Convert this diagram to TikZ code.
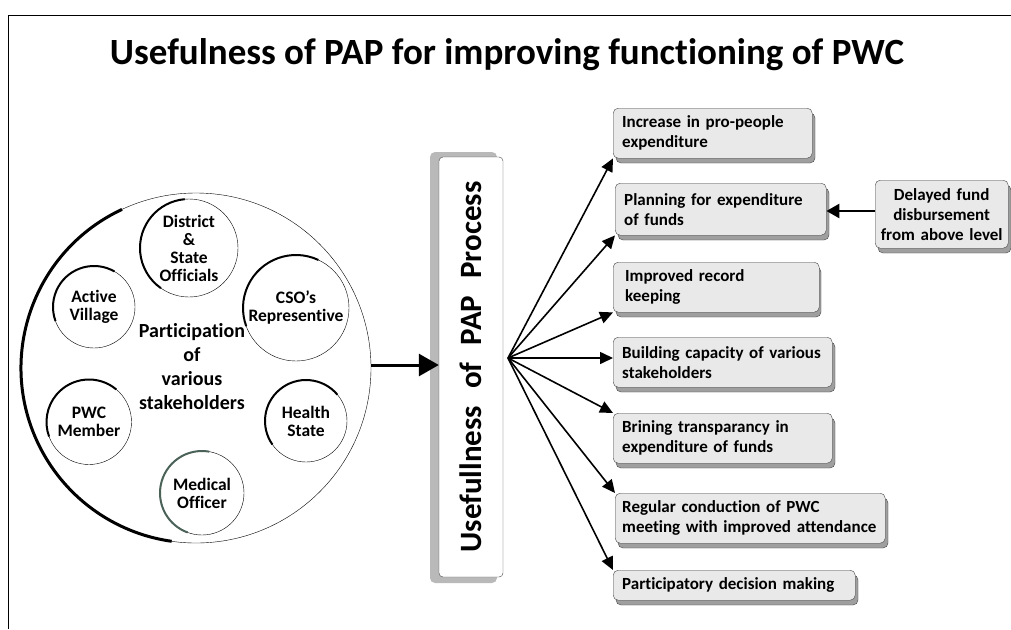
\documentclass[tikz,border=0pt]{standalone}
\usepackage{fontspec}
\setmainfont{Carlito}[Ligatures=NoCommon]
\usetikzlibrary{positioning,calc,arrows.meta}
\tikzset{>=stealth}
\definecolor{facegray}{RGB}{233,233,233}
\definecolor{edgegray}{RGB}{70,70,70}
\definecolor{medgreen}{RGB}{75,98,88}

\tikzset{
  stake/.style={circle,draw,thin,inner sep=0pt,align=center,font=\fontsize{17.5}{18}\selectfont\bfseries},
  effect/.style={draw=edgegray,fill=facegray,rounded corners=5pt,anchor=north west,align=left,
    inner xsep=9pt,font=\fontsize{17}{20}\selectfont\bfseries},
  effshadow/.style={fill=gray!75,draw=edgegray,rounded corners=5pt},
  fanarrow/.style={-{Triangle[length=13pt,width=12pt]},line width=1.6pt},
}

\begin{document}
\begin{tikzpicture}[x=1pt,y=-1pt]
\useasboundingbox (0,0) rectangle (1011,629);
\draw[thick] (1011,15) -- (8,15) -- (8,629);
\node[font=\fontsize{37}{40}\selectfont\bfseries] (title) at (507,55) {Usefulness of PAP for improving functioning of PWC};

% stakeholders
\node[circle,draw,thin,minimum size=350pt,inner sep=0pt] (part) at (196,368) {};
\draw[line width=3pt] (part.center) ++(-115:175) arc[start angle=-115,end angle=-262,radius=175];
\node[align=center,font=\fontsize{20}{24}\selectfont\bfseries] (parttext) at (192,367) {Participation\\of\\various\\stakeholders};

\node[stake,minimum size=98pt] (dso) at (189,248) {District\\\&\\State\\Officials};
\node[stake,minimum size=82pt] (avil) at (94,307) {Active\\Village};
\node[stake,minimum size=106pt] (cso) at (296,308) {CSO's\\Representive};
\node[stake,minimum size=85pt] (pwcm) at (89,422) {PWC\\Member};
\node[stake,minimum size=82pt] (hstate) at (306,421) {Health\\State};
\node[stake,minimum size=84pt] (medoff) at (202,493) {Medical\\Officer};
\draw[line width=2pt] (dso.center) ++(-95:49) arc[start angle=-95,end angle=-235,radius=49];
\draw[line width=2pt] (avil.center) ++(-60:41) arc[start angle=-60,end angle=-200,radius=41];
\draw[line width=2pt] (cso.center) ++(-65:53) arc[start angle=-65,end angle=-200,radius=53];
\draw[line width=2pt] (pwcm.center) ++(-50:42.5) arc[start angle=-50,end angle=-200,radius=42.5];
\draw[line width=2pt] (hstate.center) ++(-40:41) arc[start angle=-40,end angle=-215,radius=41];
\draw[line width=2pt,medgreen] (medoff.center) ++(-80:42) arc[start angle=-80,end angle=-250,radius=42];

% PAP process
\fill[gray!55,rounded corners=5pt] (430,152) rectangle (497,583);
\node[draw=edgegray,fill=white,rounded corners=4pt,minimum width=64pt,minimum height=420pt,inner sep=0pt,
  font=\fontsize{31}{32}\selectfont\bfseries] (pap) at (471,367)
  {\rotatebox{90}{Usefullness\hspace{17pt}of\hspace{17pt}PAP\hspace{17pt}Process}};
\draw[-{Triangle[length=20pt,width=22pt]},line width=3pt] (part.east |- 0,365) -- (pap.west |- 0,365);

% outcomes
\coordinate (fan) at (508,358);
\fill[effshadow] (616,113) rectangle (815,163);
\node[effect,minimum width=199pt,minimum height=50pt,text width=181pt] (inc) at (613,108) {Increase in pro-people\\expenditure};
\fill[effshadow] (618,188) rectangle (829,240);
\node[effect,minimum width=211pt,minimum height=52pt,text width=193pt] (plan) at (615,183) {Planning for expenditure\\of funds};
\fill[effshadow] (616,267) rectangle (821,317);
\node[effect,minimum width=205pt,minimum height=50pt,text width=182pt,inner xsep=12pt] (rec) at (613,262) {Improved record\\keeping};
\fill[effshadow] (616,342) rectangle (835,392);
\node[effect,minimum width=219pt,minimum height=50pt,text width=201pt] (cap) at (613,337) {Building capacity of various\\stakeholders};
\fill[effshadow] (616,418) rectangle (835,468);
\node[effect,minimum width=219pt,minimum height=50pt,text width=201pt] (trans) at (613,413) {Brining transparancy in\\expenditure of funds};
\fill[effshadow] (618,498) rectangle (888,548);
\node[effect,minimum width=270pt,minimum height=50pt,text width=256pt,inner xsep=7pt] (meet) at (615,493) {Regular conduction of PWC\\meeting with improved attendance};
\fill[effshadow] (616,575) rectangle (858,605);
\node[effect,minimum width=242pt,minimum height=30pt,text width=224pt] (dec) at (613,570) {Participatory decision making};
\fill[effshadow] (878,185) rectangle (1011,253);
\node[effect,minimum width=133pt,minimum height=68pt,text width=127pt,inner xsep=3pt,align=center] (delay) at (875,180) {Delayed fund\\disbursement\\from above level};

\draw[fanarrow] (fan) -- (inc.south west);
\draw[fanarrow] (fan) -- (plan.south west);
\draw[fanarrow] (fan) -- (rec.south west);
\draw[fanarrow] (fan) -- (fan -| cap.west);
\draw[fanarrow] (fan) -- (trans.north west);
\draw[fanarrow] (fan) -- (meet.north west);
\draw[fanarrow] (fan) -- (dec.north west);
\draw[-{Triangle[length=13pt,width=14pt]},line width=2.5pt] (delay.west |- 0,211) -- (plan.east |- 0,211);
\end{tikzpicture}
\end{document}
